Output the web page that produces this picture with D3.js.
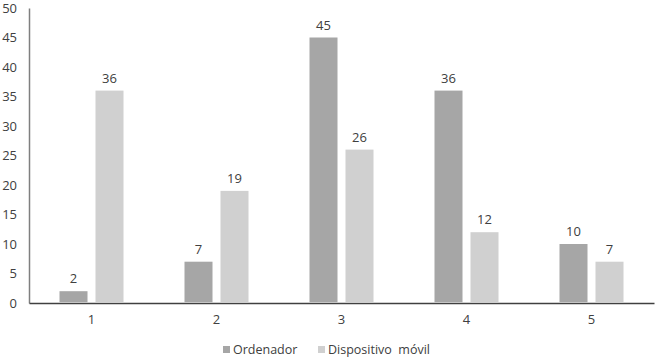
<!DOCTYPE html>
<html>
<head>
<meta charset="utf-8">
<script src="https://cdn.jsdelivr.net/npm/d3@7"></script>
<style>
  body { margin: 0; background: #fff; }
  text { font-family: "Open Sans", sans-serif; fill: #404040; }
</style>
</head>
<body>
<svg id="canvas"></svg>
<script>
const categories = ["1", "2", "3", "4", "5"];
const ordenador = [2, 7, 45, 36, 10];
const movil = [36, 19, 26, 12, 7];
const seriesNames = ["Ordenador", "Dispositivo  móvil"];
const yTicks = [0, 5, 10, 15, 20, 25, 30, 35, 40, 45, 50];

const width = 656;
const height = 363;
const plotLeft = 29, plotRight = 654, plotTop = 8, plotBottom = 303;
const colors = ["#a6a6a6", "#d0d0d0"];

const svg = d3.select("#canvas")
  .attr("width", width)
  .attr("height", height);

const xScale = d3.scaleBand()
  .domain(categories)
  .range([plotLeft, plotRight]);

const yScale = d3.scaleLinear()
  .domain([0, 50])
  .range([plotBottom, plotTop]);

const barW = 28, gap = 8;

// y axis labels
svg.append("g")
  .attr("transform", `translate(${plotLeft}, 0)`)
  .call(d3.axisLeft(yScale).tickValues(yTicks).tickSize(0).tickPadding(12))
  .call(g => g.select(".domain").attr("stroke", "#7f7f7f").attr("stroke-width", 1.5))
  .call(g => g.selectAll("text").style("font-size", "13px").attr("fill", "#404040"));

// x axis
svg.append("g")
  .attr("transform", `translate(0, ${plotBottom})`)
  .call(d3.axisBottom(xScale).tickSize(0).tickPadding(12))
  .call(g => g.select(".domain").attr("stroke", "#404040").attr("stroke-width", 1.5))
  .call(g => g.selectAll("text").style("font-size", "13px").attr("fill", "#404040"));

const series = [ordenador, movil];
series.forEach((vals, s) => {
  const xPos = (d, i) => xScale(categories[i]) + xScale.bandwidth() / 2 + (s === 0 ? -gap / 2 - barW : gap / 2);
  svg.append("g").selectAll("rect")
    .data(vals)
    .enter()
    .append("rect")
    .attr("x", xPos)
    .attr("y", d => yScale(d))
    .attr("width", barW)
    .attr("height", d => yScale(0) - yScale(d) - 0.75)
    .attr("fill", colors[s]);

  svg.append("g").selectAll("text")
    .data(vals)
    .enter()
    .append("text")
    .attr("x", (d, i) => xPos(d, i) + barW / 2)
    .attr("y", d => yScale(d) - 8)
    .attr("text-anchor", "middle")
    .style("font-size", "13px")
    .text(d => d);
});

// legend
const legendX = [223, 318];
seriesNames.forEach((name, s) => {
  svg.append("rect")
    .attr("x", legendX[s])
    .attr("y", 346)
    .attr("width", 7)
    .attr("height", 7)
    .attr("fill", colors[s]);
  svg.append("text")
    .attr("x", legendX[s] + 10)
    .attr("y", 354)
    .style("font-size", "12.5px")
    .style("white-space", "pre")
    .text(name);
});
</script>
</body>
</html>
